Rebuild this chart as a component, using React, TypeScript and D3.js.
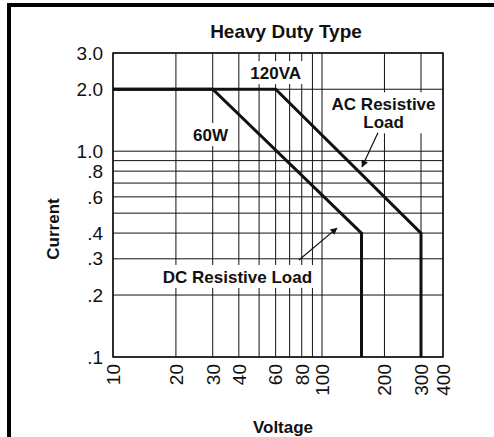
import { useEffect, useRef } from 'react';
import * as d3 from 'd3';

// grid + tick values
const voltGrid = [10, 20, 30, 40, 50, 60, 70, 80, 90, 100, 200, 300, 400];
const voltLabels = [10, 20, 30, 40, 60, 80, 100, 200, 300, 400];
const ampGrid = [0.1, 0.2, 0.3, 0.4, 0.5, 0.6, 0.7, 0.8, 0.9, 1, 2, 3];
const ampLabels = ['3.0', '2.0', '1.0', '.8', '.6', '.4', '.3', '.2', '.1'];
const ampLabelValues = [3, 2, 1, 0.8, 0.6, 0.4, 0.3, 0.2, 0.1];

// derating curves
const dcVolts = [10, 30, 155, 155];
const dcAmps = [2, 2, 0.4, 0.1];
const acVolts = [10, 60, 300, 300];
const acAmps = [2, 2, 0.4, 0.1];

// annotations (data coords)
const notes = [
  { lines: ['120VA'], v: 60, a: 2.24 },
  { lines: ['60W'], v: 29.3, a: 1.12 },
  { lines: ['AC Resistive', 'Load'], v: 198, a: 1.58 },
  { lines: ['DC Resistive Load'], v: 39.4, a: 0.229 },
];
const arrows = [
  { from: [186, 1.23], to: [156, 0.84] },
  { from: [77.6, 0.296], to: [118, 0.423] },
];

const render = (el: SVGSVGElement) => {
  const svg = d3.select(el);
  svg.selectAll('*').remove();
  const m = { left: 113, right: 443, top: 53, bottom: 357 };
  const font = "'Liberation Sans', Arial, Helvetica, sans-serif";

  // hand-drawn log axis, so a polylinear log scale
  const x = d3.scaleLog().domain([10, 100, 300, 400]).range([m.left, 322, 421, m.right]);
  const y = d3.scaleLog().domain([0.1, 3]).range([m.bottom, m.top]);

  svg
    .append('defs')
    .append('marker')
    .attr('id', 'ah')
    .attr('viewBox', '0 0 10 10')
    .attr('refX', 9)
    .attr('refY', 5)
    .attr('markerWidth', 9)
    .attr('markerHeight', 7)
    .attr('markerUnits', 'userSpaceOnUse')
    .attr('orient', 'auto')
    .append('path')
    .attr('d', 'M0,0 L10,5 L0,10 Z')
    .attr('fill', '#111');

  // outer frame
  svg.append('rect').attr('width', 494).attr('height', 437).attr('fill', '#fff');
  svg.append('line').attr('x1', 7).attr('x2', 494).attr('y1', 5).attr('y2', 5).attr('stroke', '#000').attr('stroke-width', 4);
  svg.append('line').attr('x1', 9).attr('x2', 9).attr('y1', 3).attr('y2', 437).attr('stroke', '#000').attr('stroke-width', 4);

  // grid
  const g = svg.append('g');
  g.selectAll('.vg')
    .data(voltGrid)
    .enter()
    .append('line')
    .attr('x1', (d) => x(d))
    .attr('x2', (d) => x(d))
    .attr('y1', m.top)
    .attr('y2', m.bottom)
    .attr('stroke', '#111')
    .attr('stroke-width', 1);
  g.selectAll('.hg')
    .data(ampGrid)
    .enter()
    .append('line')
    .attr('x1', m.left)
    .attr('x2', m.right)
    .attr('y1', (d) => y(d))
    .attr('y2', (d) => y(d))
    .attr('stroke', '#111')
    .attr('stroke-width', 1);

  // label boxes + text
  const lab = svg.append('g');
  notes.forEach((n) => {
    const t = lab
      .append('text')
      .attr('x', x(n.v))
      .attr('y', y(n.a))
      .attr('text-anchor', 'middle')
      .attr('font-family', font)
      .attr('font-weight', 'bold')
      .attr('font-size', 17)
      .attr('fill', '#111');
    n.lines.forEach((s, i) => {
      t.append('tspan').attr('x', x(n.v)).attr('dy', i === 0 ? 0 : 18).text(s);
    });
    const bb = (t.node() as SVGTextElement).getBBox();
    lab
      .insert('rect', () => t.node())
      .attr('x', bb.x - 4)
      .attr('y', bb.y - 3)
      .attr('width', bb.width + 8)
      .attr('height', bb.height + 4)
      .attr('fill', '#fff');
  });

  // curves
  const line = d3
    .line<[number, number]>()
    .x((d) => x(d[0]))
    .y((d) => y(d[1]));
  [
    d3.zip(dcVolts, dcAmps),
    d3.zip(acVolts, acAmps),
  ].forEach((pts) => {
    svg
      .append('path')
      .attr('d', line(pts as [number, number][]))
      .attr('fill', 'none')
      .attr('stroke', '#111')
      .attr('stroke-width', 3)
      .attr('stroke-linejoin', 'miter');
  });

  arrows.forEach((a) => {
    svg
      .append('line')
      .attr('x1', x(a.from[0]))
      .attr('y1', y(a.from[1]))
      .attr('x2', x(a.to[0]))
      .attr('y2', y(a.to[1]))
      .attr('stroke', '#111')
      .attr('stroke-width', 1.2)
      .attr('marker-end', 'url(#ah)');
  });

  // plot frame
  svg
    .append('rect')
    .attr('x', m.left)
    .attr('y', m.top)
    .attr('width', m.right - m.left)
    .attr('height', m.bottom - m.top)
    .attr('fill', 'none')
    .attr('stroke', '#111')
    .attr('stroke-width', 1.5);

  // tick labels
  svg
    .selectAll('.yl')
    .data(ampLabelValues)
    .enter()
    .append('text')
    .attr('x', 103)
    .attr('y', (d) => y(d))
    .attr('dy', '0.35em')
    .attr('text-anchor', 'end')
    .attr('font-family', font)
    .attr('font-size', 19)
    .attr('fill', '#111')
    .text((d, i) => ampLabels[i]);

  svg
    .selectAll('.xl')
    .data(voltLabels)
    .enter()
    .append('text')
    .attr('transform', (d) => `translate(${x(d)},${m.bottom + 7}) rotate(-90)`)
    .attr('dy', '0.36em')
    .attr('text-anchor', 'end')
    .attr('font-family', font)
    .attr('font-size', 19)
    .attr('fill', '#111')
    .text((d) => String(d));

  // titles
  svg
    .append('text')
    .attr('x', 286)
    .attr('y', 38)
    .attr('text-anchor', 'middle')
    .attr('font-family', font)
    .attr('font-weight', 'bold')
    .attr('font-size', 19)
    .attr('fill', '#111')
    .text('Heavy Duty Type');
  svg
    .append('text')
    .attr('x', 283)
    .attr('y', 433)
    .attr('text-anchor', 'middle')
    .attr('font-family', font)
    .attr('font-weight', 'bold')
    .attr('font-size', 17)
    .attr('fill', '#111')
    .text('Voltage');
  svg
    .append('text')
    .attr('transform', 'translate(59,229) rotate(-90)')
    .attr('text-anchor', 'middle')
    .attr('font-family', font)
    .attr('font-weight', 'bold')
    .attr('font-size', 17)
    .attr('fill', '#111')
    .text('Current');
};

export default function App() {
  const ref = useRef<SVGSVGElement>(null);
  useEffect(() => {
    if (ref.current) render(ref.current);
  }, []);
  return (
    <svg
      ref={ref}
      width={494}
      height={437}
      style={{ position: 'absolute', left: 0, top: 0, display: 'block' }}
    />
  );
}
